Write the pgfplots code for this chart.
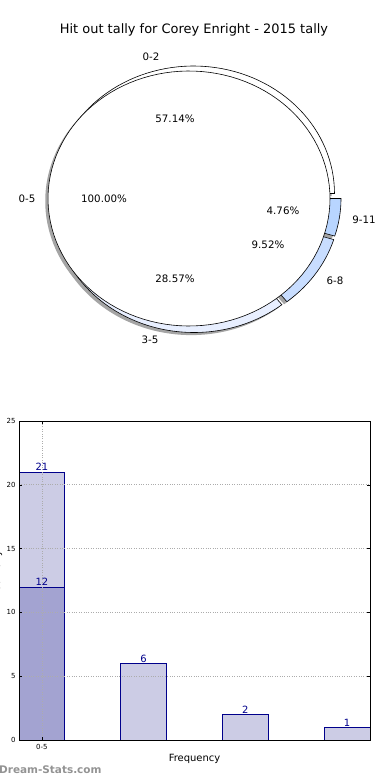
\documentclass[border=0pt]{standalone}
\usepackage{pgfplots}
\pgfplotsset{compat=1.18}
\usepackage{fontspec}
\setmainfont{DejaVu Sans}
\definecolor{barlight}{RGB}{204,204,229}
\definecolor{bardark}{RGB}{163,163,209}
\definecolor{baredge}{RGB}{0,0,139}
\definecolor{wA}{RGB}{255,255,255}
\definecolor{wB}{RGB}{232,239,255}
\definecolor{wC}{RGB}{200,221,255}
\definecolor{wD}{RGB}{184,213,255}
\definecolor{shadowc}{RGB}{165,165,165}
% tallies: 0-2, 3-5, 6-8, 9-11 (total 21)
\def\vA{12}\def\vB{6}\def\vC{2}\def\vD{1}
\pgfmathsetmacro{\tot}{\vA+\vB+\vC+\vD}
\pgfmathsetmacro{\aA}{360*\vA/\tot}
\pgfmathsetmacro{\aB}{360*(\vA+\vB)/\tot}
\pgfmathsetmacro{\aC}{360*(\vA+\vB+\vC)/\tot}
\def\RX{141}\def\RY{127.5}
% wedge: cx cy a1 a2 style
\newcommand{\pieWedge}[5]{%
  \addplot[#5, domain=#3:#4, samples=80, variable=\t]
    ({#1+\RX*cos(\t)},{#2-\RY*sin(\t)}) -- (axis cs:#1,#2) -- cycle;
}
\begin{document}
\begin{tikzpicture}
\path[use as bounding box] (0,0) rectangle (390bp,-780bp);
% ---------------- pie ----------------
\begin{axis}[at={(0,0)}, anchor=north west, scale only axis,
  width=390bp, height=400bp, xmin=0, xmax=390, ymin=0, ymax=400,
  y dir=reverse, hide axis, clip=false]
% shadows
\pieWedge{190.7}{196.1}{0}{\aA}{draw=none, fill=shadowc}
\pieWedge{191.2}{207.6}{\aA}{\aB}{draw=none, fill=shadowc}
\pieWedge{196.2}{204.6}{\aB}{\aC}{draw=none, fill=shadowc}
\pieWedge{197.2}{201.1}{\aC}{360}{draw=none, fill=shadowc}
\addplot[draw=none, fill=shadowc, domain=0:360, samples=120, variable=\t]
  ({186.2+\RX*cos(\t)},{201.1-\RY*sin(\t)}) -- cycle;
% outer wedges
\pieWedge{193.5}{193.5}{0}{\aA}{draw=black, line width=0.6pt, fill=wA}
\pieWedge{194}{205}{\aA}{\aB}{draw=black, line width=0.6pt, fill=wB}
\pieWedge{199}{202}{\aB}{\aC}{draw=black, line width=0.6pt, fill=wC}
\pieWedge{200}{198.5}{\aC}{360}{draw=black, line width=0.6pt, fill=wD}
% inner full pie (0-5, 100%)
\addplot[draw=black, line width=0.6pt, fill=white, domain=0:360, samples=120, variable=\t]
  ({189+\RX*cos(\t)},{198.5-\RY*sin(\t)}) -- cycle;
% labels
\node[font=\fontsize{13}{15}\selectfont] at (axis cs:194,30) {Hit out tally for Corey Enright - 2015 tally};
\begin{scope}[every node/.style={font=\fontsize{10.3}{12}\selectfont, inner sep=0pt}]
\node at (axis cs:151,57) {0-2};
\node at (axis cs:27,198.5) {0-5};
\node at (axis cs:150,340) {3-5};
\node at (axis cs:335,281) {6-8};
\node at (axis cs:364,220) {9-11};
\node at (axis cs:175,118.5) {57.14\%};
\node at (axis cs:104,198.5) {100.00\%};
\node at (axis cs:175,278.5) {28.57\%};
\node at (axis cs:268,244.5) {9.52\%};
\node at (axis cs:283,211) {4.76\%};
\end{scope}
\end{axis}
% ---------------- bars ----------------
\begin{axis}[at={(19bp,-740bp)}, anchor=south west, scale only axis,
  width=351bp, height=319bp,
  xmin=-0.225, xmax=3.225, ymin=0, ymax=25,
  xtick={0}, xticklabels={0-5}, ytick={0,5,10,15,20,25},
  xmajorgrids, ymajorgrids,
  grid style={dotted, gray!65, line width=0.7pt},
  axis on top,
  axis line style={line width=0.7pt},
  tick align=inside, major tick length=3bp, tick style={black, line width=0.5pt},
  /pgf/number format/assume math mode=true,
  tick label style={font=\fontsize{7}{8}\selectfont},
  xticklabel style={yshift=-1bp},
  xlabel={Frequency}, xlabel style={font=\fontsize{10}{12}\selectfont, yshift=2bp},
  every node near coord/.append style={font=\fontsize{10}{11}\selectfont, text=baredge, anchor=south, inner sep=0.8pt},
]
\addplot[ybar, bar width=0.45, bar shift=0pt, fill=barlight, draw=baredge, line width=0.6pt, nodes near coords] coordinates {(0,21) (1,6) (2,2) (3,1)};
\addplot[ybar, bar width=0.45, bar shift=0pt, fill=bardark, draw=baredge, line width=0.6pt, nodes near coords] coordinates {(0,12)};
\end{axis}
\node[rotate=90, inner sep=0pt, font=\fontsize{10}{12}\selectfont] at (-2.5bp,-580bp) {Hit out tally};
\node[anchor=west, inner sep=0pt, text=gray!85, font=\fontsize{10.5}{12}\selectfont\bfseries] at (-1bp,-770bp) {Dream-Stats.com};
\end{tikzpicture}
\end{document}
